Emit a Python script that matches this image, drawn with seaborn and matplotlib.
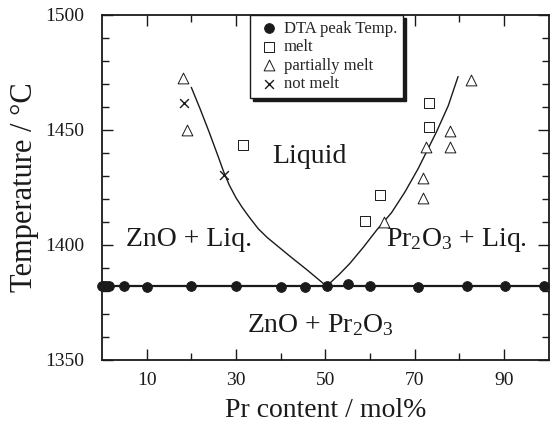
import numpy as np
import pandas as pd
import matplotlib
matplotlib.use("Agg")
import matplotlib.pyplot as plt
from matplotlib.ticker import MultipleLocator, FixedLocator
import seaborn as sns

# DTA peak temperatures
dta_x = [0, 0.5, 1.0, 1.5, 5, 10, 20, 30, 40, 45.4, 50.3, 55, 60, 70.8, 81.8, 90.3, 99]
dta_y = [1382, 1382, 1382, 1382, 1382, 1381.8, 1382, 1382, 1381.8, 1381.8, 1382,
         1383, 1382, 1381.8, 1382, 1382, 1382]

# quench results
melt_x = [31.6, 58.8, 62.2, 73.2, 73.2]
melt_y = [1443.5, 1410.6, 1421.7, 1461.6, 1451.2]
partial_x = [18.2, 19.1, 63.1, 71.9, 71.9, 72.6, 78.0, 78.0, 82.5]
partial_y = [1472.5, 1450.0, 1410.1, 1429.0, 1420.3, 1442.7, 1449.6, 1442.7, 1471.7]
notmelt_x = [18.4, 27.3]
notmelt_y = [1461.5, 1430.6]

# liquidus / eutectic lines
left_x = [20.0, 22.0, 24.0, 26.0, 27.3, 28.5, 30.0, 31.5, 33.0, 35.0, 37.0, 39.0,
          42.0, 46.0, 50.0]
left_y = [1468.5, 1459.0, 1449.0, 1438.5, 1431.5, 1426.0, 1420.5, 1416.0, 1412.0,
          1407.0, 1403.2, 1400.0, 1395.2, 1389.0, 1382.5]
right_x = [50.5, 53.0, 55.5, 58.5, 61.5, 64.8, 67.8, 70.8, 74.9, 77.5, 79.7]
right_y = [1382.5, 1387.0, 1392.0, 1399.0, 1406.5, 1414.0, 1423.0, 1433.3, 1449.3,
           1460.5, 1473.2]
eutectic_x = [0, 100]
eutectic_y = [1382, 1382]

xticks_major = [10, 30, 50, 70, 90]
yticks_major = [1350, 1400, 1450, 1500]


def draw_diagram():
    sns.set_theme(style="ticks")
    plt.rcParams['font.family'] = ['Liberation Serif', 'DejaVu Serif']
    plt.rcParams['mathtext.fontset'] = 'custom'
    plt.rcParams['mathtext.rm'] = 'Liberation Serif'

    fig = plt.figure(figsize=(5.51, 4.25), dpi=100)
    ax = fig.add_axes([0.185, 0.153, 0.811, 0.812])

    sns.lineplot(x=left_x, y=left_y, sort=False, estimator=None, color='k', lw=1.0, ax=ax)
    sns.lineplot(x=right_x, y=right_y, sort=False, estimator=None, color='k', lw=1.0, ax=ax)
    sns.lineplot(x=eutectic_x, y=eutectic_y, sort=False, estimator=None, color='k', lw=1.6, ax=ax)

    sns.scatterplot(x=dta_x, y=dta_y, marker='o', s=50, color='k', edgecolor='k',
                    ax=ax, clip_on=False, zorder=5, label='DTA peak Temp.')
    sns.scatterplot(x=melt_x, y=melt_y, marker='s', s=45, facecolor='white', edgecolor='k',
                    linewidth=0.7, ax=ax, zorder=5, label='melt')
    sns.scatterplot(x=partial_x, y=partial_y, marker='^', s=60, facecolor='white', edgecolor='k',
                    linewidth=0.7, ax=ax, zorder=5, label='partially melt')
    sns.scatterplot(x=notmelt_x, y=notmelt_y, marker='x', s=40, color='k',
                    linewidth=1.0, ax=ax, zorder=5, label='not melt')

    ax.set_xlim(0, 100)
    ax.set_ylim(1350, 1500)
    ax.xaxis.set_major_locator(FixedLocator(xticks_major))
    ax.xaxis.set_minor_locator(FixedLocator([20, 40, 60, 80]))
    ax.yaxis.set_major_locator(FixedLocator(yticks_major))
    ax.yaxis.set_minor_locator(MultipleLocator(10))
    ax.tick_params(which='both', direction='in', top=True, right=True, width=1.0, color='k')
    ax.tick_params(which='major', length=8, labelsize=14, colors='k')
    ax.tick_params(which='minor', length=5)
    ax.tick_params(axis='x', which='major', pad=9)
    ax.tick_params(axis='y', which='major', pad=13)
    for sp in ax.spines.values():
        sp.set_linewidth(1.3)
        sp.set_color('k')

    ax.set_xlabel('Pr content / mol%', fontsize=20, color='k', labelpad=6)
    ax.set_ylabel('Temperature / °C', fontsize=22, color='k', labelpad=4)

    ax.text(46.5, 1435.8, 'Liquid', fontsize=20, ha='center', va='baseline', color='k')
    ax.text(19.5, 1399.5, 'ZnO + Liq.', fontsize=20, ha='center', va='baseline', color='k')
    ax.text(79.3, 1399.5, r'$\mathrm{Pr_2O_3}$ + Liq.', fontsize=20, ha='center',
            va='baseline', color='k')
    ax.text(48.8, 1362, r'ZnO + $\mathrm{Pr_2O_3}$', fontsize=20, ha='center',
            va='baseline', color='k')

    leg = ax.legend(loc='upper left', bbox_to_anchor=(0.331, 1.0), borderaxespad=0,
                    fontsize=12, frameon=True, fancybox=False, labelspacing=0.15,
                    handletextpad=0.1, handlelength=1.6, borderpad=0.35,
                    shadow={'color': 'k', 'alpha': 1})
    leg.get_frame().set_edgecolor('k')
    leg.get_frame().set_linewidth(1.0)
    leg.get_frame().set_alpha(1)

    fig.savefig('out.png', dpi=100)


if __name__ == "__main__":
    draw_diagram()
